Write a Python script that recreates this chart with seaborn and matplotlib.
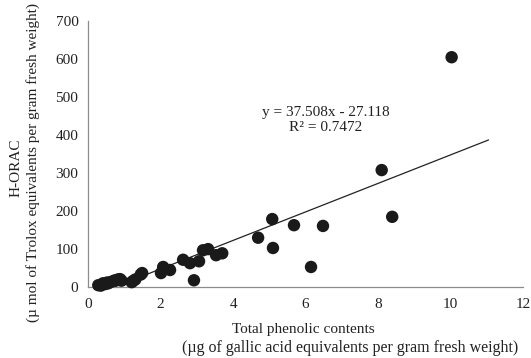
import numpy as np
import pandas as pd
import matplotlib
matplotlib.use("Agg")
import matplotlib.pyplot as plt
import seaborn as sns

# Data
phenolic = [0.28, 0.35, 0.41, 0.47, 0.52, 0.55, 0.61, 0.69, 0.75, 0.82, 0.88, 0.92,
            1.2, 1.24, 1.3, 1.45, 1.49,
            2.01, 2.07, 2.26, 2.62, 2.81, 2.92, 3.06, 3.17, 3.31, 3.53, 3.70,
            4.69, 5.08, 5.10, 5.68, 6.15, 6.48, 8.10, 8.39, 10.03]
horac = [5, 4, 10, 8, 12, 10, 13, 16, 18, 20, 21, 17,
         13, 16, 20, 33, 37,
         37, 53, 45, 72, 63, 18, 68, 97, 100, 84, 89,
         130, 179, 103, 163, 53, 161, 308, 185, 605]
slope, intercept = 37.508, -27.118
r2 = 0.7472
line_x = [0.28, 11.05]

df = pd.DataFrame({"x": phenolic, "y": horac})

sns.set_style("white")
plt.rcParams["font.family"] = ["Liberation Serif", "DejaVu Serif"]

W, H = 531, 358
fig = plt.figure(figsize=(W / 100, H / 100), dpi=100)
ax = fig.add_axes([0.166, 0.198, 0.819, 0.743])

sns.scatterplot(data=df, x="x", y="y", ax=ax, color="#1a1a1a", s=80,
                edgecolor="none", zorder=3)
lx = np.array(line_x)
ax.plot(lx, slope * lx + intercept, color="#222222", lw=0.9, zorder=2)

ax.set_xlim(0, 12)
ax.set_ylim(0, 700)
ax.set_xticks(range(0, 13, 2))
ax.set_yticks(range(0, 701, 100))
for side in ["top", "right"]:
    ax.spines[side].set_visible(False)
for side in ["left", "bottom"]:
    ax.spines[side].set_color("#8c8c8c")
    ax.spines[side].set_linewidth(0.9)
ax.tick_params(axis="both", direction="out", length=4, width=0.9,
               color="#8c8c8c", labelsize=11, labelcolor="#222222", pad=4)
ax.tick_params(axis="y", pad=3)
for c in ax.collections:
    c.set_clip_on(False)
ax.set_xlabel("")
ax.set_ylabel("")

# axis titles, placed line by line as in the reference
txt = dict(color="#222222", ha="center", va="center")
fig.text(303 / W, 1 - 329 / H, "Total phenolic contents", fontsize=11, **txt)
fig.text(350 / W, 1 - 348 / H,
         "(µg of gallic acid equivalents per gram fresh weight)", fontsize=11.5, **txt)
fig.text(16 / W, 1 - 168 / H, "H-ORAC", fontsize=11, rotation=90, **txt)
fig.text(33 / W, 1 - 163 / H,
         "(µ mol of Trolox equivalents per gram fresh weight)", fontsize=11,
         rotation=90, **txt)

ax.text(0.547, 0.628, f"y = {slope}x - {abs(intercept)}\nR² = {r2}",
        transform=ax.transAxes, ha="center", va="center", fontsize=11,
        color="#222222", linespacing=1.15)

fig.savefig("out.png", dpi=100)
